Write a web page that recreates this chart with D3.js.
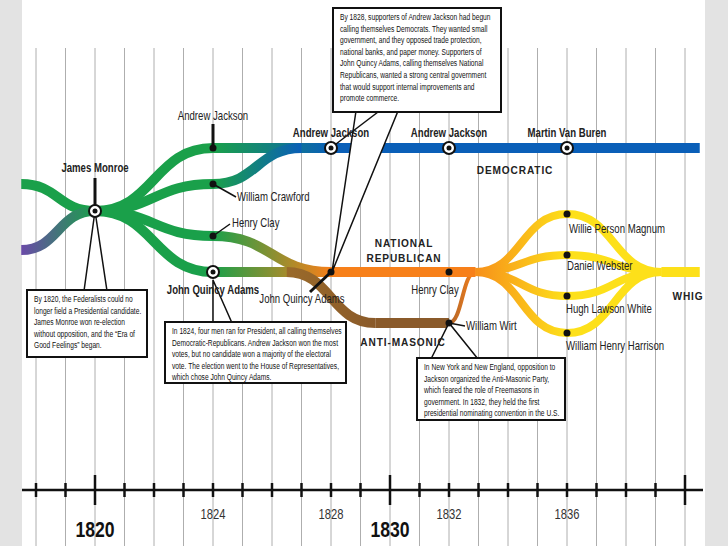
<!DOCTYPE html>
<html><head><meta charset="utf-8">
<script src="https://cdn.jsdelivr.net/npm/d3@7"></script>
<style>body{margin:0;background:#e3e3e3}text{font-family:"Liberation Sans",sans-serif}</style>
</head><body>
<svg id="c" width="728" height="546"></svg>
<script>
// timeline data
const years = d3.range(1818, 1841);
const majorYears = [1820, 1830, 1840];
const labelYears = [1824, 1828, 1832, 1836];
const bigYears = [1820, 1830];

// party lines: [fromYear, fromLane, toYear, toLane, colorA, colorB, width]
const segments = [
  [1817.5, "crawford", 1820, "monroe", "#1aa04a", "#1aa04a", 10],
  [1817.5, "purple", 1820, "monroe", "#6a4aa8", "#1aa04a", 10],
  [1820, "monroe", 1824, "jackson", "#1aa04a", "#1aa04a", 10],
  [1820, "monroe", 1824, "crawford", "#1aa04a", "#1aa04a", 10],
  [1820, "monroe", 1824, "clay", "#1aa04a", "#1aa04a", 10],
  [1820, "monroe", 1824, "adams", "#1aa04a", "#1aa04a", 10],
  [1824, "jackson", 1828, "jackson", "#1aa04a", "#0a5fb8", 10],
  [1824, "crawford", 1827, "jackson", "#1aa04a", "#0a5fb8", 10],
  [1828, "jackson", 1840.5, "jackson", "#0a5fb8", "#0a5fb8", 10],
  [1824, "clay", 1828, "adams", "#1aa04a", "#f7801a", 10],
  [1824, "adams", 1828, "adams", "#1aa04a", "#f7801a", 10],
  [1826.5, "adams", 1829.5, "wirt", "#9a6a2a", "#8a5a2a", 10],
  [1829.5, "wirt", 1832, "wirt", "#8a5a2a", "#8a5a2a", 10],
  [1832, "wirt", 1832.9, "adams", "#b0652a", "#f7801a", 4],
  [1828, "adams", 1832.9, "adams", "#f7801a", "#f7801a", 10],
  [1832.9, "adams", 1836, "magnum", "#f7901a", "#fde01a", 8],
  [1832.9, "adams", 1836, "webster", "#f7901a", "#fde01a", 8],
  [1832.9, "adams", 1836, "white", "#f7901a", "#fde01a", 8],
  [1832.9, "adams", 1836, "harrison", "#f7901a", "#fde01a", 8],
  [1836, "magnum", 1839.2, "adams", "#fde01a", "#fde01a", 8],
  [1836, "webster", 1839.2, "adams", "#fde01a", "#fde01a", 8],
  [1836, "white", 1839.2, "adams", "#fde01a", "#fde01a", 8],
  [1836, "harrison", 1839.2, "adams", "#fde01a", "#fde01a", 8],
  [1839.2, "adams", 1840.5, "adams", "#fde01a", "#fde01a", 10]
];

// nodes: [year, lane, ringed]
const nodes = [
  [1820, "monroe", true], [1824, "jackson", false], [1824, "crawford", false],
  [1824, "clay", false], [1824, "adams", true], [1828, "jackson", true],
  [1828, "adams", false], [1832, "jackson", true], [1832, "adams", false],
  [1832, "wirt", false], [1836, "jackson", true], [1836, "magnum", false],
  [1836, "webster", false], [1836, "white", false], [1836, "harrison", false]
];

const laneNames = ["jackson", "crawford", "monroe", "magnum", "clay", "webster", "adams", "white", "wirt", "harrison", "purple"];
const laneY = [148, 184, 211, 214, 236, 255, 272, 296, 323, 333, 250];

const svg = d3.select("#c");
const x = d3.scaleLinear().domain([1820, 1830]).range([95, 390]);
const y = d3.scaleOrdinal().domain(laneNames).range(laneY);
const SQ = 0.8; // horizontal squeeze to mimic a condensed face

svg.append("rect").attr("x", 22).attr("y", 0).attr("width", 683).attr("height", 546).attr("fill", "#fff");

// grid
svg.append("g").selectAll("line").data(years).join("line")
  .attr("x1", d => x(d)).attr("x2", d => x(d)).attr("y1", 48).attr("y2", 546)
  .attr("stroke", "#999").attr("stroke-width", 0.8);

// axis
const axis = svg.append("g").attr("transform", "translate(0,490)");
axis.append("line").attr("x1", 22).attr("x2", 703).attr("stroke", "#111").attr("stroke-width", 2.5);
axis.selectAll("line.t").data(years).join("line").attr("class", "t")
  .attr("x1", d => x(d)).attr("x2", d => x(d))
  .attr("y1", d => majorYears.includes(d) ? -15 : -7)
  .attr("y2", d => majorYears.includes(d) ? 15 : 7)
  .attr("stroke", "#111").attr("stroke-width", 2.5);
axis.selectAll("g.s").data(labelYears).join("g").attr("class", "s")
  .attr("transform", d => `translate(${x(d)},29) scale(${SQ},1)`)
  .append("text").attr("text-anchor", "middle")
  .attr("font-size", 14).attr("fill", "#333").text(d => d);
axis.selectAll("g.b").data(bigYears).join("g").attr("class", "b")
  .attr("transform", d => `translate(${x(d)},47) scale(${SQ},1)`)
  .append("text").attr("text-anchor", "middle")
  .attr("font-size", 22).attr("font-weight", "bold").attr("fill", "#111").text(d => d);

// lines
const defs = svg.append("defs");
segments.forEach((s, i) => {
  const x0 = x(s[0]), y0 = y(s[1]), x1 = x(s[2]), y1 = y(s[3]);
  defs.append("linearGradient").attr("id", "g" + i).attr("gradientUnits", "userSpaceOnUse")
    .attr("x1", x0).attr("x2", x1).attr("y1", 0).attr("y2", 0)
    .call(g => { g.append("stop").attr("offset", 0).attr("stop-color", s[4]); g.append("stop").attr("offset", 1).attr("stop-color", s[5]); });
  const p = d3.path();
  const mx = (x0 + x1) / 2;
  p.moveTo(x0, y0); p.bezierCurveTo(mx, y0, mx, y1, x1, y1);
  svg.append("path").attr("d", p.toString()).attr("fill", "none")
    .attr("stroke", `url(#g${i})`).attr("stroke-width", s[6]);
});

// callouts
function callout(bx, by, bw, bh, ptr, lines) {
  svg.append("polygon").attr("points", ptr.map(p => p.join(",")).join(" "))
    .attr("fill", "#fff").attr("stroke", "#111").attr("stroke-width", 1.5);
  svg.append("rect").attr("x", bx).attr("y", by).attr("width", bw).attr("height", bh)
    .attr("fill", "#fff").attr("stroke", "#111").attr("stroke-width", 2);
  svg.append("g").attr("transform", `translate(${bx + 7},${by + 12}) scale(0.74,1)`)
    .append("text").attr("font-size", 9).attr("fill", "#111")
    .selectAll("tspan").data(lines).join("tspan")
    .attr("x", 0).attr("y", (d, i) => i * 11.6).text(d => d);
}
callout(27, 290, 120, 67, [[84, 291], [x(1820), y("monroe")], [107, 291]],
  ["By 1820, the Federalists could no", "longer field a Presidential candidate.", "James Monroe won re-election", "without opposition, and the \u201cEra of", "Good Feelings\u201d began."]);
callout(165, 322, 181, 61, [[213, 323], [213, 280], [232, 323]],
  ["In 1824, four men ran for President, all calling themselves", "Democratic-Republicans. Andrew Jackson won the most", "votes, but no candidate won a majority of the electoral", "vote. The election went to the House of Representatives,", "which chose John Quincy Adams."]);
callout(333, 8, 168, 104, [[356, 111], [x(1828) + 1, y("adams")], [398, 111]],
  ["By 1828, supporters of Andrew Jackson had begun", "calling themselves Democrats. They wanted small", "government, and they opposed trade protection,", "national banks, and paper money. Supporters of", "John Quincy Adams, calling themselves National", "Republicans, wanted a strong central government", "that would support internal improvements and", "promote commerce."]);
svg.append("line").attr("x1", 378).attr("y1", 112).attr("x2", 336).attr("y2", 144).attr("stroke", "#111").attr("stroke-width", 1.5);
callout(417, 358, 148, 62, [[431, 359], [x(1832), y("wirt")], [478, 359]],
  ["In New York and New England, opposition to", "Jackson organized the Anti-Masonic Party,", "which feared the role of Freemasons in", "government. In 1832, they held the first", "presidential nominating convention in the U.S."]);

// leaders
const leaders = [[95, 178, 95, 205], [213, 124, 213, 146], [213, 184, 236, 197], [213, 236, 230, 224], [331, 272, 310, 292], [449, 323, 465, 326]];
svg.append("g").selectAll("line").data(leaders).join("line")
  .attr("x1", d => d[0]).attr("y1", d => d[1]).attr("x2", d => d[2]).attr("y2", d => d[3])
  .attr("stroke", "#111").attr("stroke-width", d => d[3] - d[1] > 15 ? 3 : 1.5);

// nodes
nodes.forEach(n => {
  const g = svg.append("g").attr("transform", `translate(${x(n[0])},${y(n[1])})`);
  if (n[2]) {
    g.append("circle").attr("r", 6).attr("fill", "#fff").attr("stroke", "#111").attr("stroke-width", 2);
    g.append("circle").attr("r", 2.5).attr("fill", "#111");
  } else g.append("circle").attr("r", 3.5).attr("fill", "#111");
});

// labels
const labels = [
  ["James Monroe", 95, 172, "middle", true],
  ["Andrew Jackson", 213, 120, "middle", false],
  ["William Crawford", 237, 201, "start", false],
  ["Henry Clay", 232, 227, "start", false],
  ["John Quincy Adams", 213, 294, "middle", true],
  ["John Quincy Adams", 302, 303, "middle", false],
  ["Andrew Jackson", 331, 137, "middle", true],
  ["Andrew Jackson", 449, 137, "middle", true],
  ["Martin Van Buren", 567, 137, "middle", true],
  ["Henry Clay", 435, 294, "middle", false],
  ["William Wirt", 466, 330, "start", false],
  ["Willie Person Magnum", 569, 233, "start", false],
  ["Daniel Webster", 567, 270, "start", false],
  ["Hugh Lawson White", 566, 313, "start", false],
  ["William Henry Harrison", 566, 350, "start", false]
];
svg.append("g").selectAll("g").data(labels).join("g")
  .attr("transform", d => `translate(${d[1]},${d[2]}) scale(${SQ},1)`)
  .append("text").attr("text-anchor", d => d[3])
  .attr("font-weight", d => d[4] ? "bold" : "normal").attr("font-size", 12)
  .attr("fill", "#222").text(d => d[0]);

const partyLabels = [["DEMOCRATIC", 515, 174], ["NATIONAL", 404, 247], ["REPUBLICAN", 404, 262], ["ANTI-MASONIC", 403, 346], ["WHIG", 688, 300]];
svg.append("g").selectAll("g").data(partyLabels).join("g")
  .attr("transform", d => `translate(${d[1]},${d[2]}) scale(0.88,1)`)
  .append("text").attr("text-anchor", "middle")
  .attr("font-family", "'DejaVu Sans', sans-serif").attr("font-weight", "bold")
  .attr("font-size", 11.5).attr("letter-spacing", 1).attr("fill", "#222").text(d => d[0]);
</script>
</body></html>
